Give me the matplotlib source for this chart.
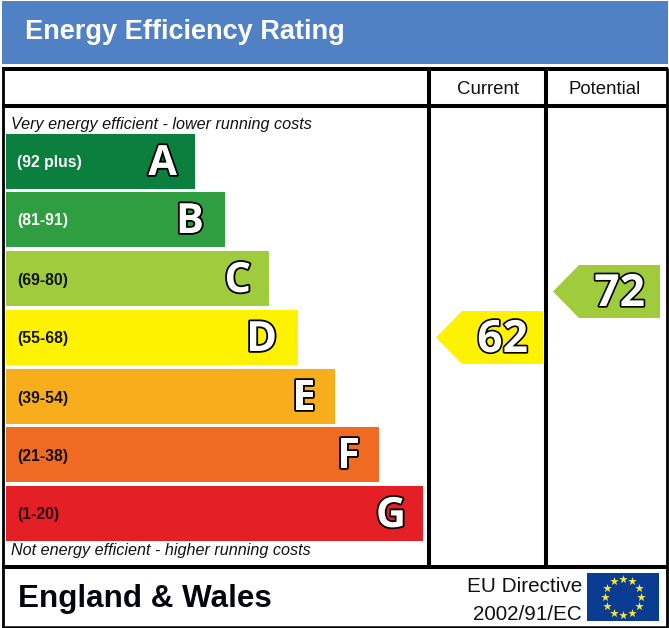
"""
Energy efficiency rating chart (EPC style), drawn in a pixel-sized axes.
"""

import numpy as np
import matplotlib

matplotlib.use("Agg")
import matplotlib.pyplot as plt
from matplotlib.patches import Polygon, Rectangle
import matplotlib.patheffects as pe

# band data
letters = ["A", "B", "C", "D", "E", "F", "G"]
ranges = ["(92 plus)", "(81-91)", "(69-80)", "(55-68)", "(39-54)", "(21-38)", "(1-20)"]
band_right = [195, 225, 269, 298, 335, 379, 423]
band_top = [134, 192, 251, 310, 369, 427, 486]
band_colors = ["#0a7f3e", "#2f9e40", "#9fcb3c", "#fff200", "#f8ae1c", "#ef6b24", "#e41f26"]
range_colors = ["white", "white", "#111111", "#111111", "#111111", "#111111", "#220a0a"]
letter_inset = [18, 21, 18, 21, 19, 19, 17]

# ratings
current = 62
potential = 72
current_color = "#fff200"
potential_color = "#9fcb3c"

SANS = "Liberation Sans"
LETTER_FONT = "Open Sans"


def outlined(width=2.6):
    return [pe.withStroke(linewidth=width, foreground="black")]


def rating_y(rating):
    # 62 sits at y=338 and 72 at y=292 on the picture
    return 337.5 - (rating - 62) * 4.6


def draw_arrow(ax, rating, left, right, color):
    y = rating_y(rating)
    h = 26.5
    tip = left + 26
    ax.add_patch(Polygon([(left, y), (tip, y - h), (right, y - h), (right, y + h), (tip, y + h)],
                         closed=True, fc=color, ec="none", zorder=2))
    ax.text(right - 15, y + 3, str(rating), ha="right", va="center", color="white",
            fontsize=32, fontweight="bold", family=LETTER_FONT,
            path_effects=outlined(2.4), zorder=3)


fig = plt.figure(figsize=(6.69, 6.28), dpi=100)
ax = fig.add_axes([0, 0, 1, 1])
ax.set_xlim(0, 669)
ax.set_ylim(628, 0)
ax.axis("off")

# banner
ax.add_patch(Rectangle((2, 1), 666, 63, fc="#4f81c4", ec="none"))
ax.text(25, 32, "Energy Efficiency Rating", color="white", fontsize=19.5, fontweight="bold",
        family=SANS, va="center", ha="left")

# frame lines
LW = 2.9
for y in [69, 106, 566.5]:
    ax.plot([2, 668], [y, y], color="black", lw=LW, solid_capstyle="butt", zorder=4)
ax.plot([2, 668], [627, 627], color="black", lw=1.8, solid_capstyle="butt", zorder=4)
ax.plot([3, 3], [68, 628], color="black", lw=2.0, solid_capstyle="butt", zorder=4)
ax.plot([666.5, 666.5], [68, 628], color="black", lw=2.0, solid_capstyle="butt", zorder=4)
for x in [428.5, 546]:
    ax.plot([x, x], [68, 566], color="black", lw=LW, solid_capstyle="butt", zorder=4)

ax.text(487.5, 90, "Current", fontsize=13.4, family=SANS, ha="center", va="center", color="#111111")
ax.text(604.5, 90, "Potential", fontsize=13.4, family=SANS, ha="center", va="center", color="#111111")

ax.text(11, 124.5, "Very energy efficient - lower running costs", fontsize=11.6, style="italic",
        family=SANS, ha="left", va="center", color="#111111")
ax.text(11, 550.5, "Not energy efficient - higher running costs", fontsize=11.6, style="italic",
        family=SANS, ha="left", va="center", color="#111111")

# bands
band_h = 55
centers = np.array(band_top) + band_h / 2
ax.barh(centers, np.array(band_right) - 6, height=band_h, left=6, color=band_colors, linewidth=0)
for i, letter in enumerate(letters):
    ax.text(17, centers[i] + 1.5, ranges[i], color=range_colors[i], fontsize=11.3, fontweight="bold",
            family=SANS, ha="left", va="center")
    ax.text(band_right[i] - letter_inset[i], centers[i] + 3, letter, color="white", fontsize=30,
            fontweight="bold", family=LETTER_FONT, ha="right", va="center",
            path_effects=outlined(2.6))

# rating arrows
draw_arrow(ax, current, 436, 543, current_color)
draw_arrow(ax, potential, 553, 660, potential_color)

# footer
ax.text(18, 599.5, "England & Wales", fontsize=22.6, fontweight="bold", family=SANS,
        ha="left", va="center", color="#050510")
ax.text(582, 586, "EU Directive", fontsize=14.9, family=SANS, ha="right", va="center", color="#111111")
ax.text(582, 614, "2002/91/EC", fontsize=14.9, family=SANS, ha="right", va="center", color="#111111")

# EU flag
ax.add_patch(Rectangle((587, 573), 72, 48, fc="#0a3d91", ec="none"))
angles = np.deg2rad(np.arange(0, 360, 30))
ax.scatter(623 + 18 * np.cos(angles), 597 + 18 * np.sin(angles), marker="*", s=42,
           color="#f5e83c", linewidths=0, zorder=3)

fig.savefig("out.png", dpi=100)
plt.close(fig)
